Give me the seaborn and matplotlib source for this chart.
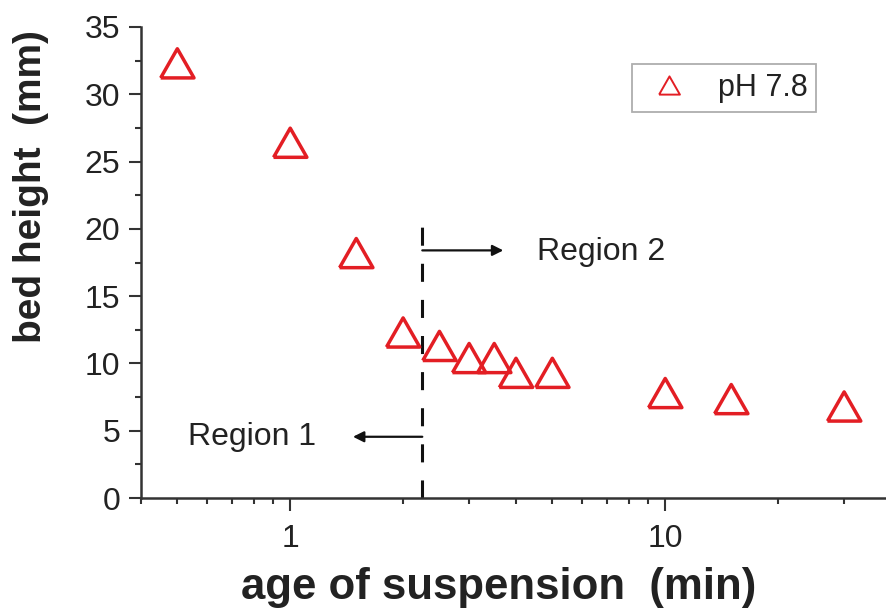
import matplotlib
matplotlib.use("Agg")
import matplotlib.pyplot as plt
from matplotlib.lines import Line2D
from matplotlib.ticker import LogLocator, MultipleLocator, FixedLocator, NullFormatter
import numpy as np
import pandas as pd
import seaborn as sns

# bed height versus age of suspension, pH 7.8
age_min = [0.5, 1.0, 1.5, 2.0, 2.5, 3.0, 3.5, 4.0, 5.0, 10.0, 15.0, 30.0]
bed_height_mm = [32.3, 26.4, 18.2, 12.3, 11.3, 10.4, 10.4, 9.3, 9.3, 7.8, 7.35, 6.8]
series_label = "pH 7.8"
x_ticks = [1, 10]
x_tick_labels = ["1", "10"]
y_ticks = [0, 5, 10, 15, 20, 25, 30, 35]
boundary_age = 2.25

sns.set_theme(style="white")
plt.rcParams["font.family"] = ["Liberation Sans", "DejaVu Sans"]
plt.rcParams["lines.scale_dashes"] = False

RED = "#e31e24"
INK = "#222222"
AXC = "#333333"

df = pd.DataFrame({"age": age_min, "height": bed_height_mm})

fig = plt.figure(figsize=(8.87, 6.11), dpi=100)
ax = fig.add_axes([141 / 887, 113 / 611, 746 / 887, 471 / 611])

tri = [(-1, -0.875), (1, -0.875), (0, 0.875), (-1, -0.875)]
sns.scatterplot(data=df, x="age", y="height", ax=ax, marker=tri, s=24 ** 2,
                facecolors="none", edgecolors=RED, linewidths=2.5, legend=False,
                zorder=3)

ax.set_xscale("log")
ax.set_xlim(0.4, 0.4 * 10 ** (746 / 375))
ax.set_ylim(0, 35)

ax.xaxis.set_major_locator(FixedLocator(x_ticks))
ax.set_xticklabels(x_tick_labels)
ax.xaxis.set_minor_locator(LogLocator(base=10, subs=np.arange(2, 10)))
ax.xaxis.set_minor_formatter(NullFormatter())
ax.set_yticks(y_ticks)
ax.yaxis.set_minor_locator(MultipleLocator(2.5))

for side in ["top", "right"]:
    ax.spines[side].set_visible(False)
for side in ["left", "bottom"]:
    ax.spines[side].set_linewidth(1.8)
    ax.spines[side].set_color(AXC)

ax.tick_params(which="major", direction="out", length=9, width=1.5, color=AXC,
               labelsize=23, labelcolor=INK, pad=6,
               bottom=True, left=True)
ax.tick_params(axis="x", which="major", pad=10)
ax.tick_params(which="minor", direction="out", length=4.5, width=1.5, color=AXC,
               bottom=True, left=True)

ax.set_xlabel("age of suspension  (min)", fontsize=31.5, fontweight="bold", color=INK)
ax.set_ylabel("bed height  (mm)", fontsize=28, fontweight="bold", color=INK)
ax.xaxis.set_label_coords(0.479, -0.19)
ax.yaxis.set_label_coords(-0.148, 0.662)
ax.yaxis.label.set_va("center")
ax.xaxis.label.set_va("center")

# boundary between the two regions
ax.plot([boundary_age, boundary_age], [0, 20.3], color="#111111", lw=2.2,
        linestyle=(0, (13, 13)), zorder=2)

arrow_kw = dict(arrowstyle="-|>", color="#111111", lw=1.6, mutation_scale=16,
                shrinkA=0, shrinkB=0)
ax.annotate("", xy=(3.7, 18.4), xytext=(boundary_age, 18.4), arrowprops=arrow_kw)
ax.annotate("", xy=(1.47, 4.55), xytext=(boundary_age, 4.55), arrowprops=arrow_kw)
ax.text(4.56, 18.3, "Region 2", fontsize=23, color=INK, va="center", ha="left")
ax.text(0.535, 4.5, "Region 1", fontsize=23, color=INK, va="center", ha="left")

handle = Line2D([], [], linestyle="none", marker=tri, markersize=15,
                markerfacecolor="none", markeredgecolor=RED, markeredgewidth=1.4)
leg = ax.legend([handle], [series_label], loc="upper left",
                bbox_to_anchor=(632 / 887, 1 - 64 / 611), bbox_transform=fig.transFigure,
                fontsize=22, frameon=True, fancybox=False, borderpad=0.3,
                handlelength=1.8, handletextpad=0.7, borderaxespad=0)
leg.get_frame().set_edgecolor("#9a9a9a")
leg.get_frame().set_linewidth(1.3)
for t in leg.get_texts():
    t.set_color(INK)

fig.savefig("out.png", dpi=100)
